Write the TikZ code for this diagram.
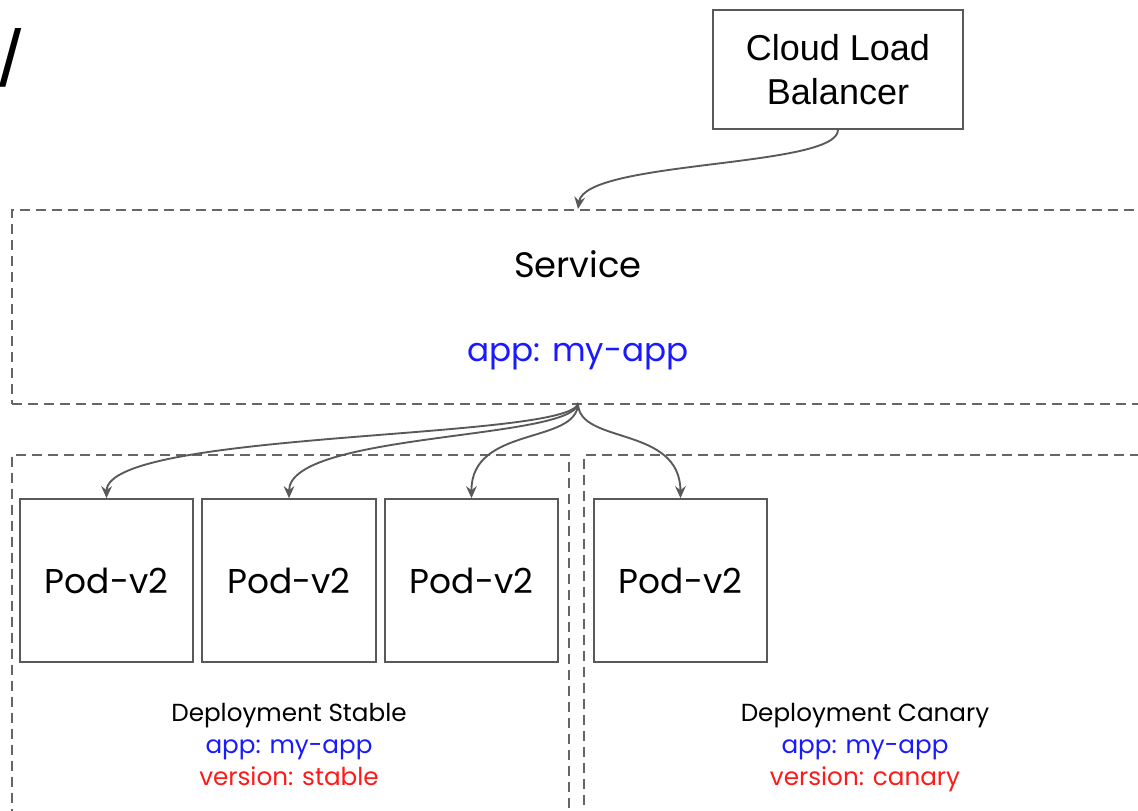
\documentclass[tikz,border=0pt]{standalone}
\usepackage{fontspec}
\setmainfont{Poppins}
\newfontfamily\arialfont{Liberation Sans}
\usetikzlibrary{arrows.meta}
\definecolor{linegray}{HTML}{595959}
\definecolor{dashgray}{HTML}{666666}
\definecolor{lblblue}{HTML}{1A1AFF}
\definecolor{lblred}{HTML}{FF1A1A}
\tikzset{
  podbox/.style={draw=linegray, line width=1.5pt, minimum width=130pt, minimum height=122pt, inner sep=0pt, font=\fontsize{25.8}{30}\selectfont},
  groupbox/.style={draw=dashgray, line width=1.4pt, dash pattern=on 7.5pt off 4.5pt},
  lbbox/.style={draw=linegray, line width=1.5pt, minimum width=187.5pt, minimum height=89pt, inner sep=0pt, align=center, font=\arialfont\fontsize{27}{33}\selectfont},
  conn/.style={draw=linegray, line width=1.4pt, -{Stealth[length=9pt,width=8pt,inset=3pt]}},
  biglabel/.style={font=\fontsize{26.5}{30}\selectfont},
  deplabel/.style={font=\fontsize{18.5}{24}\selectfont, align=center, anchor=north},
}
\begin{document}
\begin{tikzpicture}[x=0.75pt,y=-0.75pt]
\useasboundingbox (0,0) rectangle (1138,810);
\clip (0,0) rectangle (1138,810);
\fill[white] (0,0) rectangle (1138,810);
% stray glyph at top left
\node[anchor=center, inner sep=0pt, font=\arialfont\fontsize{60}{60}\selectfont] (slash) at (11,58) {/};
% groups
\node[groupbox, minimum width=1200*0.75pt, minimum height=194*0.75pt, anchor=north west, inner sep=0pt] (service) at (11,209) {};
\node[groupbox, minimum width=557*0.75pt, minimum height=420*0.75pt, anchor=north west, inner sep=0pt] (stable) at (11,454) {};
\node[groupbox, minimum width=620*0.75pt, minimum height=420*0.75pt, anchor=north west, inner sep=0pt] (canary) at (583,454) {};
\coordinate (svctop) at (578,209);
\coordinate (svcbot) at (578,403);
\node[biglabel] (svcname) at (578,264) {Service};
\node[font=\fontsize{24.5}{30}\selectfont, text=lblblue] (svcsel) at (578,357) {app: my-app};
% load balancer
\node[lbbox] (lb) at (838,69.5) {Cloud Load\\Balancer};
% pods
\node[podbox] (p1) at (106.5,580.5) {Pod-v2};
\node[podbox] (p2) at (289,580.5) {Pod-v2};
\node[podbox] (p3) at (471.5,580.5) {Pod-v2};
\node[podbox] (p4) at (680.5,580.5) {Pod-v2};
% deployment labels
\node[deplabel] (stablelbl) at (289,699) {Deployment Stable\\\textcolor{lblblue}{app: my-app}\\\textcolor{lblred}{version: stable}};
\node[deplabel] (canarylbl) at (865,699) {Deployment Canary\\\textcolor{lblblue}{app: my-app}\\\textcolor{lblred}{version: canary}};
% connectors
\draw[conn] (lb.south) .. controls (838,168) and (585,160) .. (svctop);
\draw[conn] (svcbot) .. controls (575,440) and (107,430) .. (p1.north);
\draw[conn] (svcbot) .. controls (576,440) and (289,432) .. (p2.north);
\draw[conn] (svcbot) .. controls (578,445) and (471,425) .. (p3.north);
\draw[conn] (svcbot) .. controls (578,445) and (680,425) .. (p4.north);
\end{tikzpicture}
\end{document}
